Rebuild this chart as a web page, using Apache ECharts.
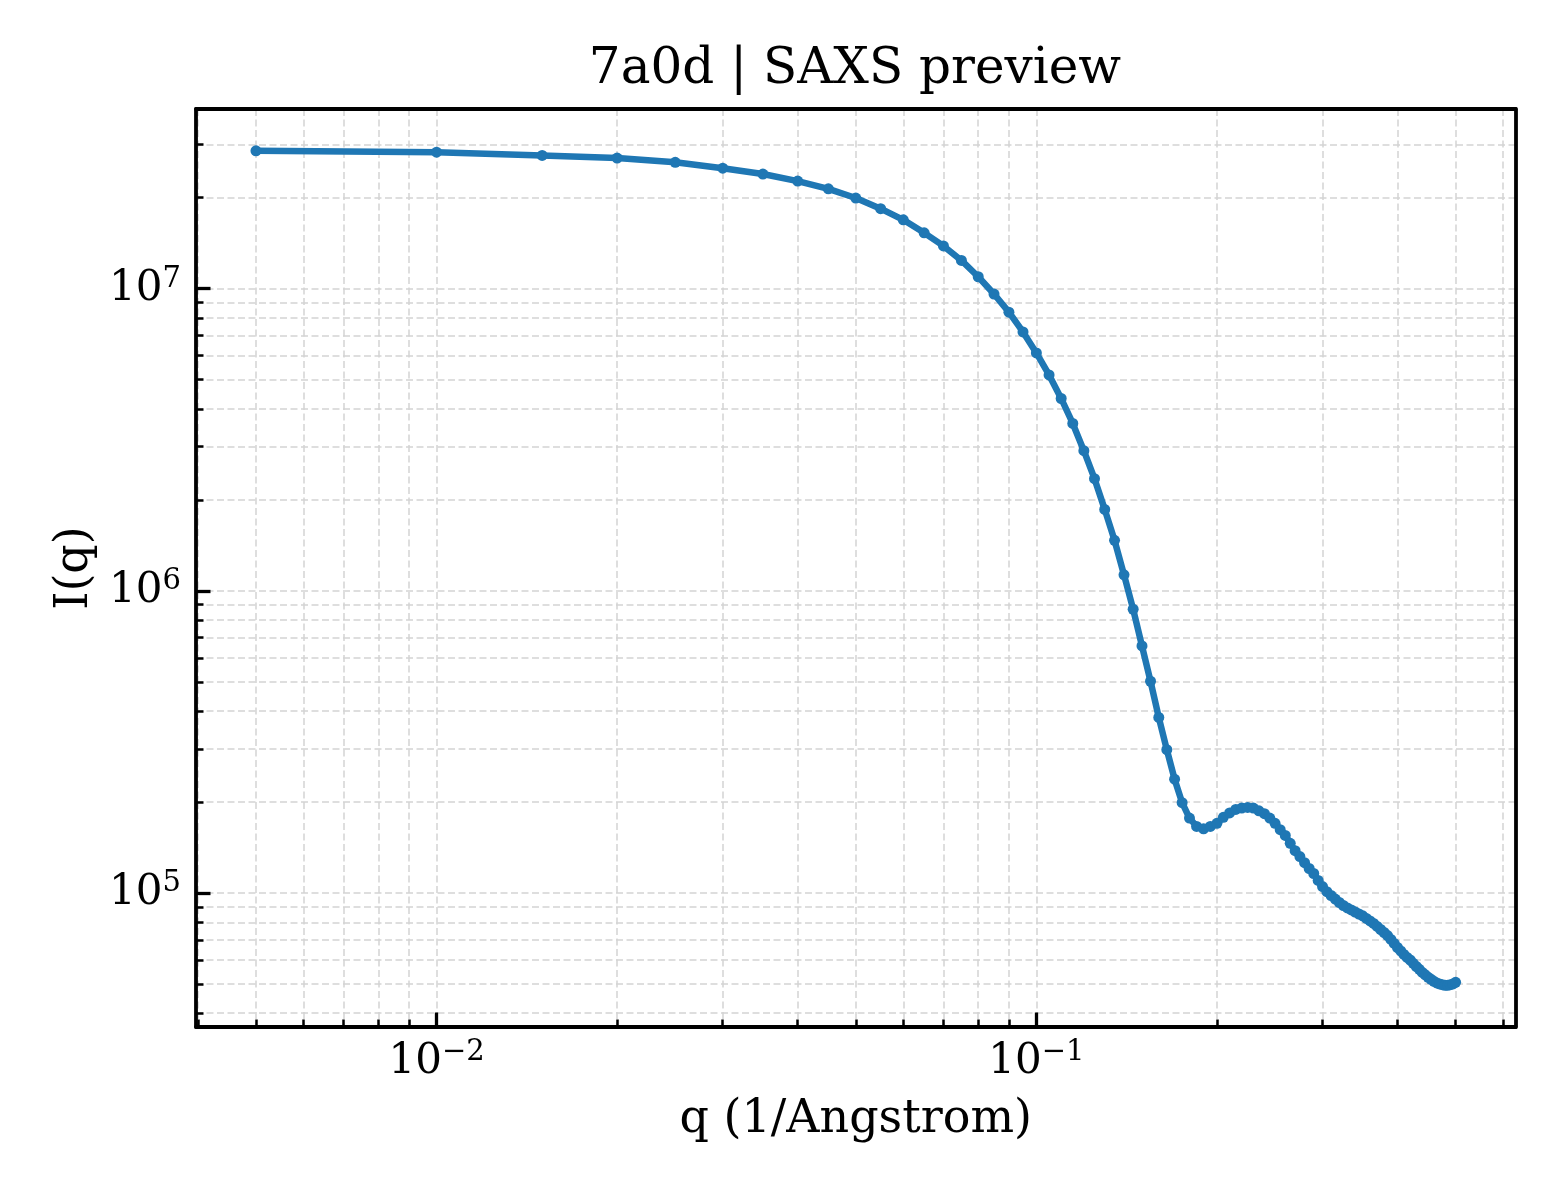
<!DOCTYPE html>
<html lang="en">
<head>
    <meta charset="UTF-8">
    <title>7a0d | SAXS preview</title>
    <script src="https://cdn.jsdelivr.net/npm/echarts@6/dist/echarts.min.js"></script>
    <style>
        html, body { margin: 0; padding: 0; background: #fff; }
        #main { width: 1560px; height: 1200px; }
    </style>
</head>
<body>
    <div id="main"></div>
    <script>
        // q (1/Angstrom)
        var qValues = [
            0.005, 0.01, 0.015, 0.02, 0.025, 0.03, 0.035, 0.04, 0.045, 0.05,
            0.055, 0.06, 0.065, 0.07, 0.075, 0.08, 0.085, 0.09, 0.095, 0.1,
            0.105, 0.11, 0.115, 0.12, 0.125, 0.13, 0.135, 0.14, 0.145, 0.15,
            0.155, 0.16, 0.165, 0.17, 0.175, 0.18, 0.185, 0.19, 0.195, 0.2,
            0.205, 0.21, 0.215, 0.22, 0.225, 0.23, 0.235, 0.24, 0.245, 0.25,
            0.255, 0.26, 0.265, 0.27, 0.275, 0.28, 0.285, 0.29, 0.295, 0.3,
            0.305, 0.31, 0.315, 0.32, 0.325, 0.33, 0.335, 0.34, 0.345, 0.35,
            0.355, 0.36, 0.365, 0.37, 0.375, 0.38, 0.385, 0.39, 0.395, 0.4,
            0.405, 0.41, 0.415, 0.42, 0.425, 0.43, 0.435, 0.44, 0.445, 0.45,
            0.455, 0.46, 0.465, 0.47, 0.475, 0.48, 0.485, 0.49, 0.495, 0.5
        ];
        // I(q)
        var intensity = [
            2.86e7, 2.83e7, 2.76e7, 2.705e7, 2.62e7, 2.505e7, 2.395e7, 2.27e7, 2.14e7, 1.995e7,
            1.84e7, 1.69e7, 1.53e7, 1.385e7, 1.24e7, 1.095e7, 9.6e6, 8.36e6, 7.19e6, 6.13e6,
            5.18e6, 4.33e6, 3.58e6, 2.91e6, 2.35e6, 1.86e6, 1.47e6, 1.13e6, 8.69e5, 6.57e5,
            5.02e5, 3.81e5, 2.98e5, 2.38e5, 1.99e5, 1.77e5, 1.66e5, 1.63e5, 1.66e5, 1.70e5,
            1.78e5, 1.84e5, 1.89e5, 1.91e5, 1.92e5, 1.91e5, 1.87e5, 1.83e5, 1.77e5, 1.70e5,
            1.62e5, 1.55e5, 1.46e5, 1.38e5, 1.32e5, 1.26e5, 1.205e5, 1.16e5, 1.10e5, 1.05e5,
            1.01e5, 9.81e4, 9.55e4, 9.30e4, 9.09e4, 8.92e4, 8.79e4, 8.65e4, 8.52e4, 8.40e4,
            8.24e4, 8.08e4, 7.93e4, 7.75e4, 7.57e4, 7.40e4, 7.23e4, 7.02e4, 6.81e4, 6.60e4,
            6.43e4, 6.26e4, 6.12e4, 6.00e4, 5.85e4, 5.71e4, 5.59e4, 5.46e4, 5.36e4, 5.26e4,
            5.18e4, 5.10e4, 5.04e4, 5.00e4, 4.97e4, 4.95e4, 4.95e4, 4.97e4, 5.00e4, 5.06e4
        ];

        // tick positions
        var xMajorTicks = [0.01, 0.1];
        var xMinorTicks = [0.004, 0.005, 0.006, 0.007, 0.008, 0.009,
            0.02, 0.03, 0.04, 0.05, 0.06, 0.07, 0.08, 0.09,
            0.2, 0.3, 0.4, 0.5, 0.6];
        var yMajorTicks = [1e5, 1e6, 1e7];
        var yMinorTicks = [4e4, 5e4, 6e4, 7e4, 8e4, 9e4,
            2e5, 3e5, 4e5, 5e5, 6e5, 7e5, 8e5, 9e5,
            2e6, 3e6, 4e6, 5e6, 6e6, 7e6, 8e6, 9e6,
            2e7, 3e7];
        var xRange = [0.0039716, 0.62923];
        var yRange = [36012, 3.932e7];

        var FONT = 'DejaVu Serif';
        var chart = echarts.init(document.getElementById('main'));

        function powLabel(v) {
            var e = Math.round(Math.log10(v));
            return '{b|10}{s|' + String(e).replace('-', '\u2212') + '}';
        }
        var labelRich = {
            b: { fontFamily: FONT, fontSize: 42, color: '#000', lineHeight: 48 },
            s: { fontFamily: FONT, fontSize: 29, color: '#000', verticalAlign: 'top', lineHeight: 32 }
        };

        // one log axis; 'major' axes carry labels, 'minor' ones the grid,
        // 'frame' ones only close the box on top/right
        function makeAxis(pos, range, ticks, kind, extra) {
            var major = kind === 'major';
            var ax = {
                type: 'log',
                logBase: 10,
                position: pos,
                min: range[0],
                max: range[1],
                axisLine: { show: kind !== 'minor', onZero: false, lineStyle: { color: '#000', width: 3.8 } },
                axisTick: {
                    show: kind !== 'frame',
                    inside: true,
                    length: major ? 14.5 : 7.5,
                    customValues: ticks,
                    lineStyle: { color: '#000', width: major ? 3.3 : 2.5 }
                },
                axisLabel: { show: false },
                splitLine: { show: false },
                minorTick: { show: false },
                minorSplitLine: { show: false }
            };
            for (var k in extra) ax[k] = extra[k];
            return ax;
        }

        var gridLine = { show: true, lineStyle: { color: '#d4d4d4', width: 1.5, type: [7, 3.5] } };

        var option = {
            backgroundColor: '#fff',
            animation: false,
            title: {
                text: '7a0d | SAXS preview',
                left: 850,
                textAlign: 'center',
                top: 40,
                textStyle: { fontFamily: FONT, fontSize: 50, fontWeight: 'normal', color: '#000' }
            },
            grid: { left: 196, right: 44.5, top: 109, bottom: 173, containLabel: false },
            xAxis: [
                makeAxis('bottom', xRange, xMajorTicks, 'major', {
                    name: 'q (1/Angstrom)',
                    nameLocation: 'middle',
                    nameGap: 70,
                    nameTextStyle: { fontFamily: FONT, fontSize: 46, color: '#000' },
                    axisLabel: { show: true, customValues: xMajorTicks, formatter: powLabel, margin: 11, rich: labelRich }
                }),
                makeAxis('bottom', xRange, xMajorTicks.concat(xMinorTicks), 'minor', { splitLine: gridLine }),
                makeAxis('top', xRange, [], 'frame', {})
            ],
            yAxis: [
                makeAxis('left', yRange, yMajorTicks, 'major', {
                    name: 'I(q)',
                    nameLocation: 'middle',
                    nameGap: 98,
                    nameTextStyle: { fontFamily: FONT, fontSize: 46, color: '#000' },
                    axisLabel: { show: true, customValues: yMajorTicks, formatter: powLabel, margin: 15, rich: labelRich }
                }),
                makeAxis('left', yRange, yMajorTicks.concat(yMinorTicks), 'minor', { splitLine: gridLine }),
                makeAxis('right', yRange, [], 'frame', {})
            ],
            series: [
                {
                    name: 'I(q)',
                    type: 'line',
                    xAxisIndex: 0,
                    yAxisIndex: 0,
                    data: qValues.map(function (q, i) { return [q, intensity[i]]; }),
                    symbol: 'circle',
                    symbolSize: 11,
                    showAllSymbol: true,
                    lineStyle: { color: '#1f77b4', width: 6.5 },
                    itemStyle: { color: '#1f77b4' },
                    z: 5
                }
            ]
        };
        chart.setOption(option);
        window.addEventListener('resize', function () {
            chart.resize();
        });
    </script>
</body>
</html>
